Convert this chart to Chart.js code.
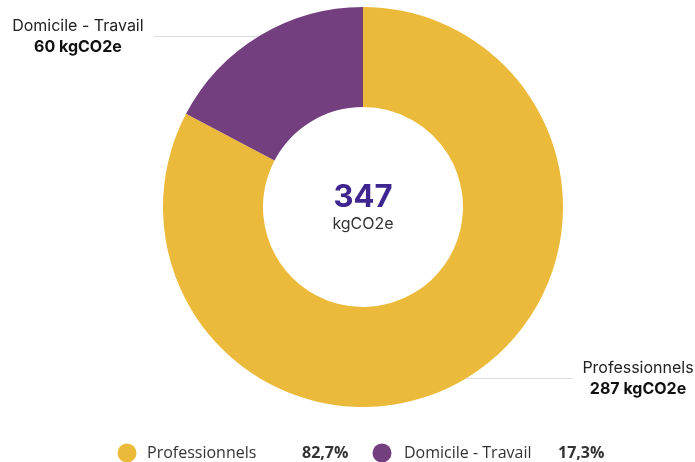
<!DOCTYPE html>
<html lang="fr">
<head>
  <meta charset="UTF-8">
  <title>Déplacements - kgCO2e</title>
  <script src="https://cdn.jsdelivr.net/npm/chart.js"></script>
  <style>
    body { margin: 0; background: #fff; }
    #wrap { width: 695px; height: 462px; position: relative; }
  </style>
</head>
<body>
  <div id="wrap"><canvas id="chart" width="695" height="462"></canvas></div>
  <script>
    const categories = ['Professionnels', 'Domicile - Travail'];
    const values = [287, 60];
    const colors = ['#ECBA3A', '#733F7F'];
    const unit = 'kgCO2e';

    const total = values.reduce((a, b) => a + b, 0);
    const pct = v => (v / total * 100).toFixed(1).replace('.', ',') + '%';

    // texte central, étiquettes avec traits et légende en bas
    const annotations = {
      id: 'annotations',
      beforeDatasetsDraw(chart) {
        const ctx = chart.ctx;
        const meta = chart.getDatasetMeta(0);
        ctx.save();
        meta.data.forEach((arc, i) => {
          const mid = (arc.startAngle + arc.endAngle) / 2;
          const x0 = arc.x + Math.cos(mid) * arc.outerRadius;
          const y0 = arc.y + Math.sin(mid) * arc.outerRadius;
          const right = Math.cos(mid) > 0;
          const x1 = right ? x0 + 106 : x0 - 106;
          ctx.strokeStyle = '#dcdcdc';
          ctx.lineWidth = 1;
          ctx.beginPath();
          ctx.moveTo(x0, Math.round(y0) + 0.5);
          ctx.lineTo(x1, Math.round(y0) + 0.5);
          ctx.stroke();
        });
        ctx.restore();
      },
      afterDraw(chart) {
        const ctx = chart.ctx;
        const meta = chart.getDatasetMeta(0);
        const arc0 = meta.data[0];
        ctx.save();
        // centre
        ctx.textAlign = 'center';
        ctx.textBaseline = 'middle';
        ctx.fillStyle = '#3E2590';
        ctx.font = 'bold 31px Inter, sans-serif';
        ctx.fillText(String(total), arc0.x, arc0.y - 9);
        ctx.fillStyle = '#333';
        ctx.font = '16px Inter, sans-serif';
        ctx.fillText(unit, arc0.x, arc0.y + 17);

        // étiquettes
        meta.data.forEach((arc, i) => {
          const mid = (arc.startAngle + arc.endAngle) / 2;
          const x0 = arc.x + Math.cos(mid) * arc.outerRadius;
          const y0 = arc.y + Math.sin(mid) * arc.outerRadius;
          const right = Math.cos(mid) > 0;
          const x1 = right ? x0 + 106 : x0 - 106;
          const l1 = categories[i];
          const l2 = values[i] + ' ' + unit;
          ctx.font = '16px Inter, sans-serif';
          const w1 = ctx.measureText(l1).width;
          ctx.font = 'bold 16px Inter, sans-serif';
          const w2 = ctx.measureText(l2).width;
          const w = Math.max(w1, w2);
          const cx = right ? x1 + 10 + w / 2 : x1 - 10 - w / 2;
          ctx.textAlign = 'center';
          ctx.fillStyle = '#222';
          ctx.font = '16px Inter, sans-serif';
          ctx.fillText(l1, cx, y0 - 10);
          ctx.fillStyle = '#111';
          ctx.font = 'bold 16px Inter, sans-serif';
          ctx.fillText(l2, cx, y0 + 11);
        });

        // légende
        const ly = 453;
        const items = [
          { dot: 127, label: 147, val: 302 },
          { dot: 382, label: 404, val: 558 }
        ];
        ctx.textAlign = 'left';
        items.forEach((it, i) => {
          ctx.fillStyle = colors[i];
          ctx.beginPath();
          ctx.arc(it.dot, ly, 9.5, 0, Math.PI * 2);
          ctx.fill();
          ctx.fillStyle = '#333';
          ctx.font = '16px "Open Sans", sans-serif';
          ctx.fillText(categories[i], it.label, ly);
          ctx.font = 'bold 16px "Open Sans", sans-serif';
          ctx.fillText(pct(values[i]), it.val, ly);
        });
        ctx.restore();
      }
    };

    new Chart(document.getElementById('chart'), {
      type: 'doughnut',
      data: {
        labels: categories,
        datasets: [{
          data: values,
          backgroundColor: colors,
          borderWidth: 0,
          hoverOffset: 0
        }]
      },
      options: {
        responsive: false,
        animation: false,
        cutout: '50%',
        layout: { padding: { top: 7, bottom: 55, left: 163, right: 132 } },
        plugins: {
          legend: { display: false },
          tooltip: { enabled: false }
        }
      },
      plugins: [annotations]
    });
  </script>
</body>
</html>
